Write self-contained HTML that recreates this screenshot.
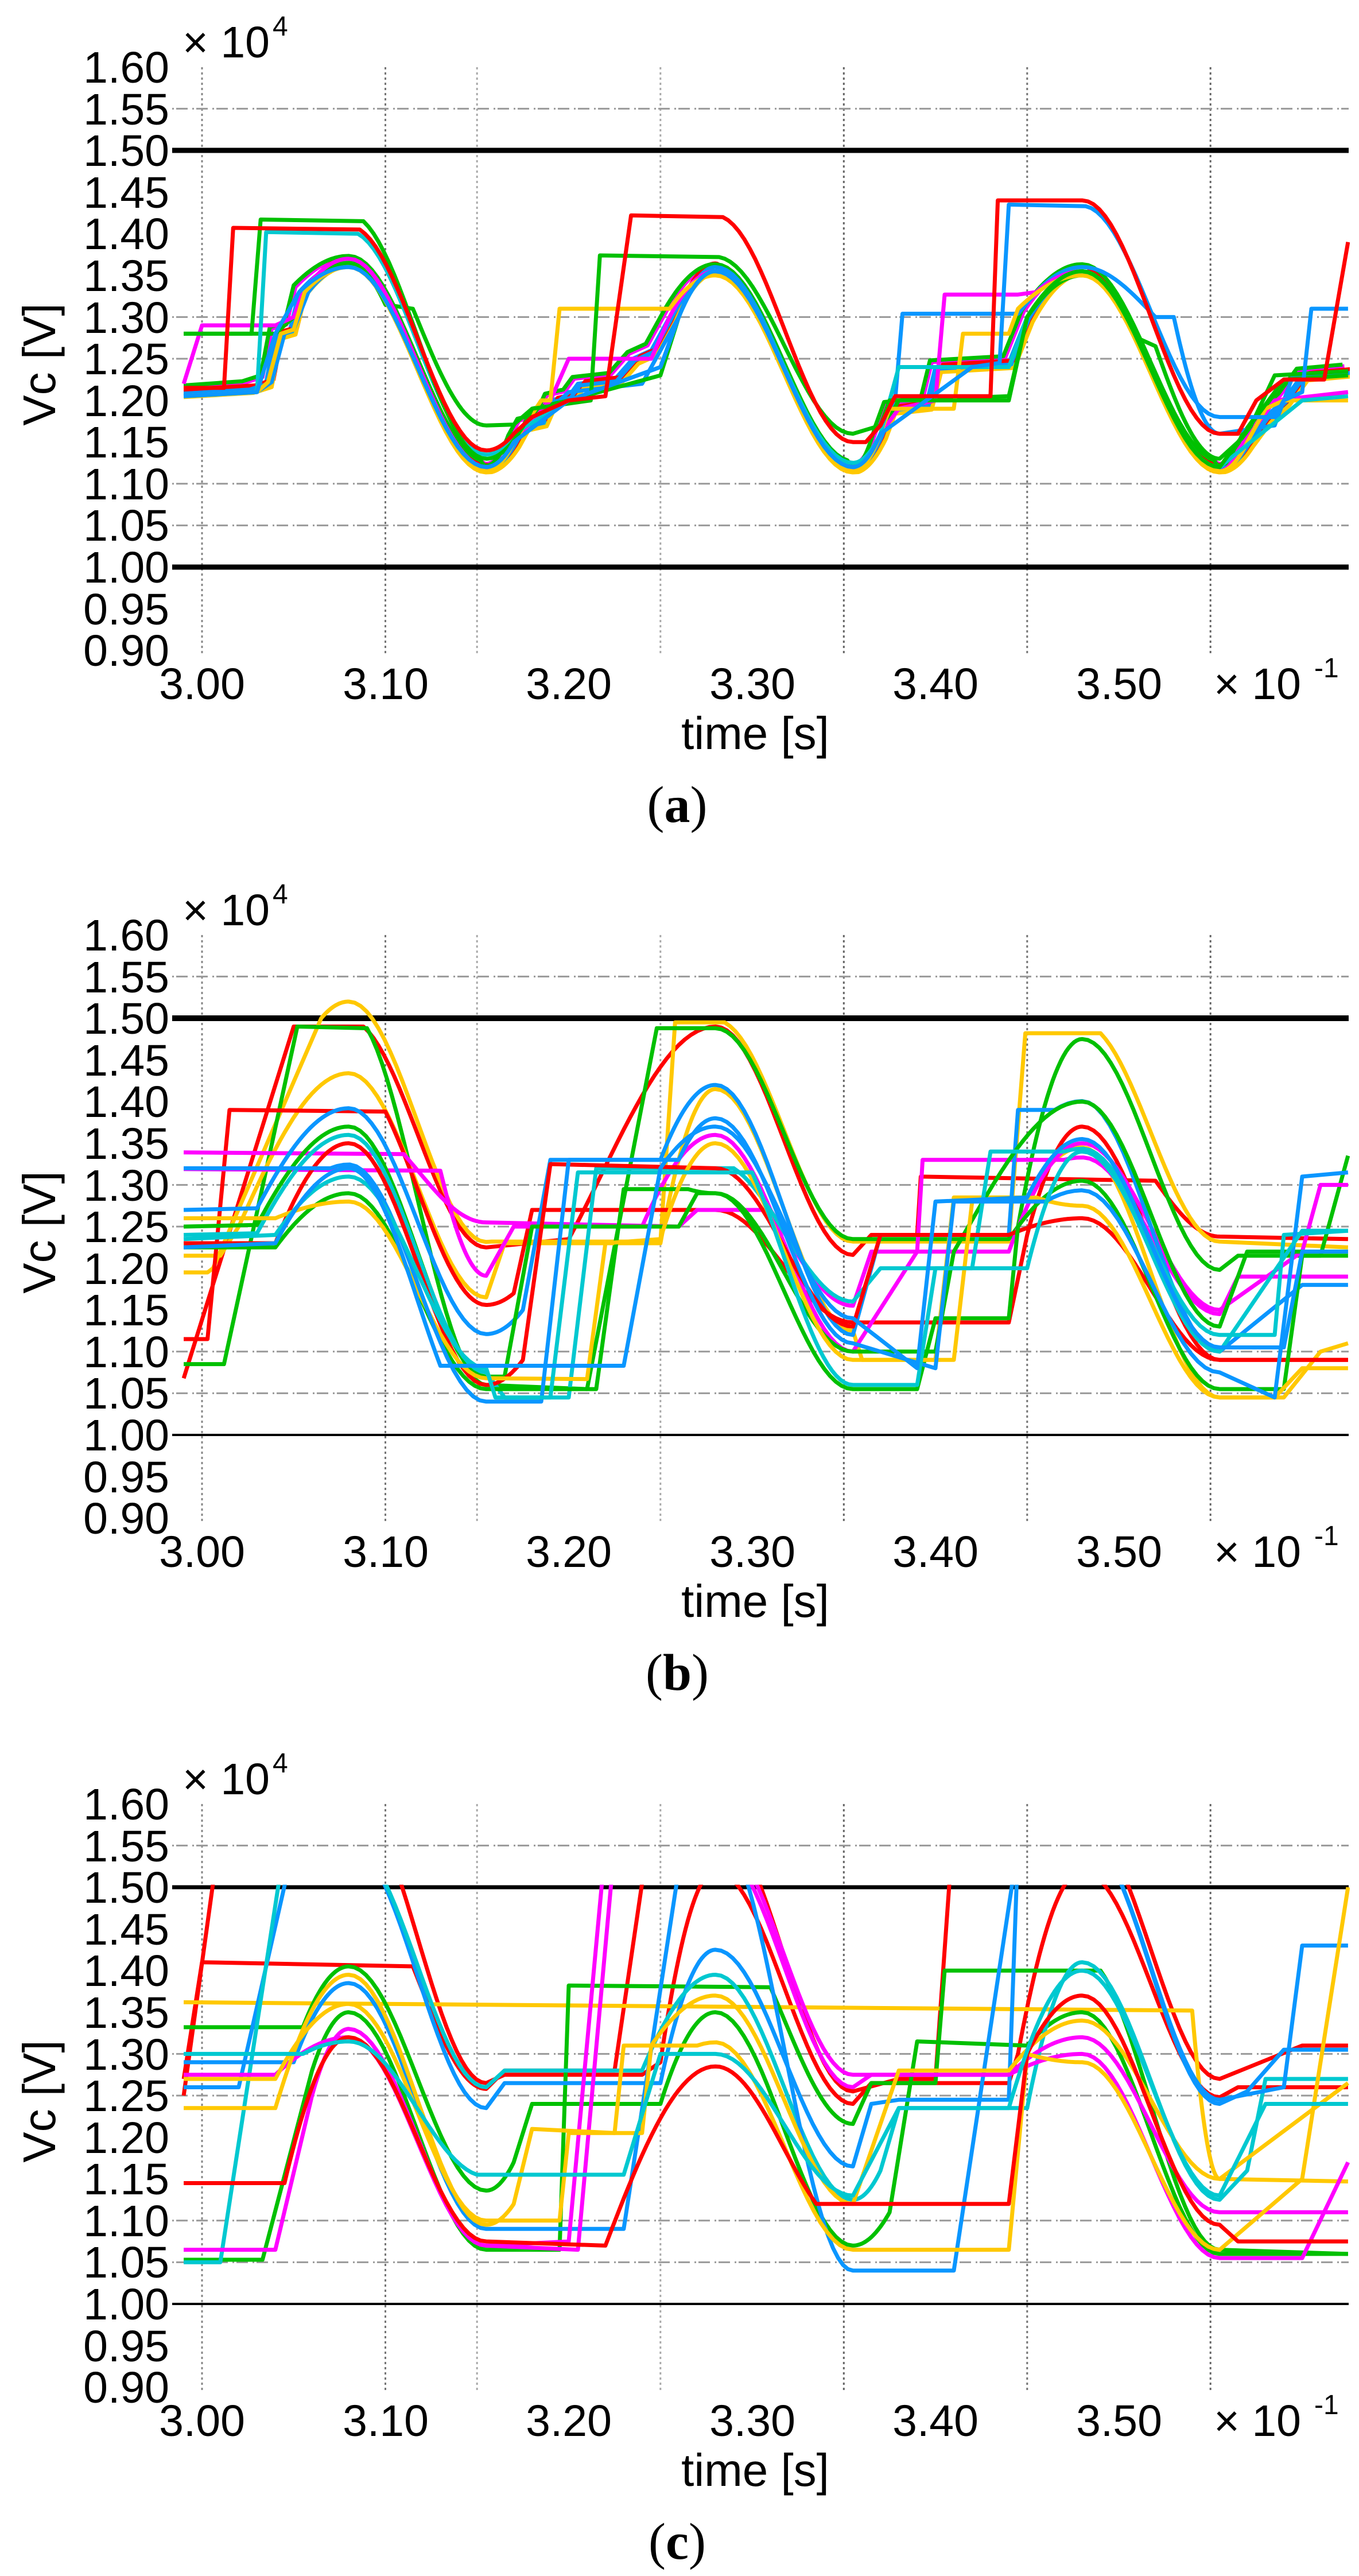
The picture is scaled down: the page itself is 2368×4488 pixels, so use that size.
<!DOCTYPE html>
<html><head><meta charset="utf-8">
<style>
html,body{margin:0;padding:0;background:#fff;}
svg{display:block;}
.tk{font-family:"Liberation Sans","DejaVu Sans",sans-serif;font-size:77px;fill:#000;}
.lab{font-family:"Liberation Sans","DejaVu Sans",sans-serif;font-size:80px;fill:#000;}
.cap{font-family:"Liberation Serif",serif;font-size:90px;fill:#000;}
</style></head>
<body>
<svg id="s" width="2368" height="4488" viewBox="0 0 2368 4488" xmlns="http://www.w3.org/2000/svg">
<rect width="2368" height="4488" fill="#fff"/>
<g id="grids"></g>
<g id="curves"></g>
<g id="txt0">
<text class="tk" x="295" y="144" text-anchor="end">1.60</text>
<text class="tk" x="295" y="217" text-anchor="end">1.55</text>
<text class="tk" x="295" y="289" text-anchor="end">1.50</text>
<text class="tk" x="295" y="362" text-anchor="end">1.45</text>
<text class="tk" x="295" y="434" text-anchor="end">1.40</text>
<text class="tk" x="295" y="507" text-anchor="end">1.35</text>
<text class="tk" x="295" y="580" text-anchor="end">1.30</text>
<text class="tk" x="295" y="652" text-anchor="end">1.25</text>
<text class="tk" x="295" y="725" text-anchor="end">1.20</text>
<text class="tk" x="295" y="797" text-anchor="end">1.15</text>
<text class="tk" x="295" y="870" text-anchor="end">1.10</text>
<text class="tk" x="295" y="942" text-anchor="end">1.05</text>
<text class="tk" x="295" y="1015" text-anchor="end">1.00</text>
<text class="tk" x="295" y="1088" text-anchor="end">0.95</text>
<text class="tk" x="295" y="1160" text-anchor="end">0.90</text>
<text class="tk" x="352" y="1218" text-anchor="middle">3.00</text>
<text class="tk" x="672" y="1218" text-anchor="middle">3.10</text>
<text class="tk" x="991" y="1218" text-anchor="middle">3.20</text>
<text class="tk" x="1311" y="1218" text-anchor="middle">3.30</text>
<text class="tk" x="1630" y="1218" text-anchor="middle">3.40</text>
<text class="tk" x="1950" y="1218" text-anchor="middle">3.50</text>
<text class="tk" x="2115" y="1218">× 10</text>
<text class="tk" x="2290" y="1180" style="font-size:48px">-1</text>
<text class="tk" x="318" y="100">× 10</text>
<text class="tk" x="475" y="62" style="font-size:48px">4</text>
<text class="lab" x="0" y="0" text-anchor="middle" transform="translate(96,635) rotate(-90)">Vc [V]</text>
<text class="lab" x="1316" y="1305" text-anchor="middle">time [s]</text>
<text class="cap" x="1180" y="1432" text-anchor="middle">(<tspan font-weight="bold">a</tspan>)</text>
</g>
</svg>
<script>
(function(){
var svg=document.getElementById('s');
var t0=document.getElementById('txt0');
var offs=[0,1512,3026];
var caps=['a','b','c'];
for(var k=1;k<3;k++){
  var g=t0.cloneNode(true);
  g.removeAttribute('id');
  g.setAttribute('transform','translate(0,'+offs[k]+')');
  var ts=g.getElementsByTagName('tspan');
  ts[ts.length-1].textContent=caps[k];
  svg.appendChild(g);
}
function X(t){return 352+(t-3.0)*3195;}
function Y(v,o){return o+988-(v-1)*1452;}
function S(t){var p=((t-3.08)%0.2+0.2)%0.2;
  if(p<0.075) return (1+Math.cos(Math.PI*p/0.075))/2;
  return (1-Math.cos(Math.PI*(p-0.075)/0.125))/2;}
var grids='';
var gv=[[3.00,'#888'],[3.10,'#777'],[3.15,'#aaa'],[3.25,'#aaa'],[3.35,'#666'],[3.45,'#777'],[3.55,'#666']];
var hg=[1.55,1.30,1.25,1.10,1.05];
var thick=[[9,9],[10,4],[7,4]];
for(var c=0;c<3;c++){
  var o=offs[c];
  for(var i=0;i<gv.length;i++){var x=X(gv[i][0]).toFixed(1);
    grids+='<line x1="'+x+'" y1="'+(o+117)+'" x2="'+x+'" y2="'+(o+1143)+'" stroke="'+gv[i][1]+'" stroke-width="3" stroke-dasharray="4,5"/>';}
  for(var i=0;i<hg.length;i++){var y=Y(hg[i],o).toFixed(1);
    grids+='<line x1="300" y1="'+y+'" x2="2350" y2="'+y+'" stroke="#999" stroke-width="3" stroke-dasharray="3,4,20,8"/>';}
  grids+='<line x1="300" y1="'+Y(1.5,o)+'" x2="2350" y2="'+Y(1.5,o)+'" stroke="#000" stroke-width="'+thick[c][0]+'"/>';
  grids+='<line x1="300" y1="'+Y(1.0,o)+'" x2="2350" y2="'+Y(1.0,o)+'" stroke="#000" stroke-width="'+thick[c][1]+'"/>';
  var top=(c==2)?Y(1.503,o):Y(1.6,o);
  grids+='<clipPath id="cp'+c+'"><rect x="300" y="'+top+'" width="2052" height="'+(Y(0.9,o)-top)+'"/></clipPath>';
}
document.getElementById('grids').innerHTML=grids;
var R='#ff0000',G='#00c000',B='#0a96ff',C='#00c8d0',M='#ff00ff',Yl='#ffc800';
function build(str,o,dv,dt){
  var tk=str.trim().split(/[\s,]+/);var pts=[];var ct,cv;var i=0;
  while(i<tk.length){var cmd=tk[i];var t=parseFloat(tk[i+1]);var v=parseFloat(tk[i+2])+dv;i+=3;
    if(cmd!='M') t+=dt;
    if(cmd=='M'||cmd=='L'){pts.push([t,v]);}
    else if(cmd=='Z'){var s0=S(ct),s1=S(t);
      for(var j=1;j<=24;j++){var tt=ct+(t-ct)*j/24;var vv;
        if(Math.abs(s1-s0)<1e-6) vv=cv+(v-cv)*j/24; else vv=cv+(v-cv)*(S(tt)-s0)/(s1-s0);
        pts.push([tt,vv]);}}
    ct=t;cv=v;}
  var d='';for(var j=0;j<pts.length;j++){d+=(j?'L':'M')+X(pts[j][0]).toFixed(1)+' '+Y(pts[j][1],o).toFixed(1);}
  return d;}
var mainA='M 2.99 1.21 L 3.025 1.215 L 3.035 1.222 L 3.04 1.28 L 3.048 1.285 L 3.053 1.33 Z 3.08 1.365 Z 3.155 1.12 Z 3.17 1.15 L 3.175 1.17 L 3.185 1.175 L 3.19 1.2 L 3.2 1.205 L 3.205 1.22 L 3.225 1.225 L 3.235 1.25 L 3.245 1.26 L 3.255 1.30 Z 3.28 1.355 Z 3.355 1.12 Z 3.37 1.16 L 3.375 1.19 L 3.395 1.195 L 3.4 1.24 L 3.44 1.245 L 3.45 1.30 Z 3.48 1.355 Z 3.555 1.12 Z 3.57 1.15 L 3.58 1.18 L 3.59 1.2 L 3.6 1.23 L 3.625 1.235';
var A=[];
var mc=[B,C,M,R,Yl,G,B],mdv=[0,-0.004,0.006,0.003,-0.006,0.008,-0.002],mdt=[0,0.002,-0.002,0.004,0.003,-0.003,0.001];
for(var i=0;i<mc.length;i++)A.push([mc[i],mainA,mdv[i],mdt[i]]);
A.push([B,'M 2.99 1.205 L 3.03 1.21 L 3.038 1.222 L 3.045 1.28 L 3.05 1.285 L 3.058 1.33 Z 3.08 1.362 Z 3.155 1.12 Z 3.17 1.15 L 3.2 1.21 L 3.24 1.22 L 3.26 1.30 Z 3.28 1.36 Z 3.355 1.12 Z 3.37 1.16 L 3.378 1.20 L 3.382 1.304 L 3.445 1.304 L 3.455 1.33 Z 3.48 1.36 Z 3.52 1.30 L 3.53 1.30 Z 3.555 1.16 L 3.585 1.17 L 3.595 1.23 L 3.625 1.235']);
A.push([G,'M 2.99 1.28 L 3.04 1.28 L 3.05 1.30 L 3.056 1.33 Z 3.08 1.365 Z 3.1 1.315 L 3.115 1.31 Z 3.155 1.17 L 3.17 1.171 L 3.18 1.19 L 3.2 1.2 L 3.25 1.23 L 3.26 1.30 Z 3.28 1.355 Z 3.355 1.125 Z 3.37 1.16 L 3.38 1.20 L 3.44 1.205 L 3.45 1.30 Z 3.48 1.35 Z 3.51 1.275 L 3.52 1.265 Z 3.555 1.13 L 3.57 1.16 L 3.585 1.23 L 3.625 1.235']);
A.push([M,'M 2.99 1.22 L 3.0 1.29 L 3.04 1.29 L 3.05 1.3 L 3.055 1.33 Z 3.08 1.37 Z 3.155 1.12 Z 3.17 1.15 L 3.19 1.2 L 3.2 1.25 L 3.245 1.25 L 3.255 1.30 Z 3.28 1.355 Z 3.355 1.12 Z 3.37 1.16 L 3.38 1.19 L 3.40 1.2 L 3.405 1.327 L 3.445 1.327 L 3.455 1.33 Z 3.48 1.355 Z 3.555 1.115 Z 3.565 1.14 L 3.585 1.2 L 3.625 1.21']);
A.push([Yl,'M 2.99 1.205 L 3.03 1.21 L 3.036 1.222 L 3.043 1.28 L 3.05 1.285 L 3.056 1.33 Z 3.08 1.36 Z 3.155 1.115 Z 3.17 1.15 L 3.185 1.20 L 3.19 1.2 L 3.195 1.31 L 3.255 1.31 Z 3.28 1.35 Z 3.355 1.115 Z 3.37 1.16 L 3.375 1.19 L 3.41 1.19 L 3.415 1.28 L 3.44 1.28 L 3.445 1.31 Z 3.48 1.35 Z 3.555 1.115 Z 3.57 1.15 L 3.58 1.19 L 3.59 1.20 L 3.625 1.20']);
A.push([C,'M 2.99 1.205 L 3.03 1.21 L 3.035 1.402 L 3.085 1.40 Z 3.155 1.135 Z 3.17 1.16 L 3.2 1.2 L 3.25 1.24 L 3.26 1.30 Z 3.28 1.355 Z 3.355 1.125 Z 3.37 1.16 L 3.38 1.24 L 3.44 1.24 L 3.45 1.30 Z 3.48 1.355 Z 3.555 1.12 L 3.6 1.2 L 3.625 1.205']);
A.push([G,'M 2.99 1.28 L 3.027 1.28 L 3.032 1.417 L 3.088 1.415 Z 3.155 1.13 Z 3.18 1.19 L 3.212 1.2 L 3.217 1.374 L 3.282 1.372 Z 3.355 1.16 L 3.37 1.17 L 3.375 1.2 L 3.44 1.2 L 3.45 1.3 Z 3.48 1.355 Z 3.555 1.12 L 3.59 1.225 L 3.625 1.23']);
A.push([B,'M 2.99 1.205 L 3.03 1.21 L 3.04 1.28 L 3.053 1.33 Z 3.08 1.36 Z 3.155 1.12 Z 3.17 1.15 L 3.2 1.2 L 3.25 1.24 L 3.26 1.3 Z 3.28 1.355 Z 3.355 1.12 Z 3.37 1.16 L 3.42 1.24 L 3.435 1.245 L 3.44 1.435 L 3.482 1.433 Z 3.555 1.18 L 3.585 1.18 L 3.59 1.2 L 3.6 1.21 L 3.605 1.31 L 3.625 1.31']);
A.push([R,'M 2.99 1.215 L 3.012 1.215 L 3.017 1.407 L 3.086 1.405 Z 3.155 1.14 Z 3.17 1.16 L 3.18 1.18 L 3.2 1.2 L 3.22 1.205 L 3.234 1.422 L 3.284 1.42 Z 3.355 1.15 L 3.362 1.15 L 3.37 1.17 L 3.378 1.205 L 3.43 1.205 L 3.434 1.44 L 3.48 1.44 Z 3.555 1.16 L 3.565 1.16 L 3.575 1.2 L 3.59 1.225 L 3.612 1.225 L 3.625 1.39']);
var Bc=[
[R,'M 2.99 1.068 L 3.05 1.49 L 3.088 1.49 Z 3.155 1.225 L 3.2 1.235 Z 3.28 1.49 Z 3.355 1.216 L 3.365 1.24 L 3.39 1.24 L 3.392 1.31 L 3.52 1.305 Z 3.555 1.238 L 3.625 1.235'],
[Yl,'M 2.99 1.195 L 3.003 1.195 L 3.006 1.20 L 3.065 1.50 Z 3.08 1.52 Z 3.158 1.232 L 3.25 1.232 L 3.258 1.495 L 3.285 1.495 Z 3.355 1.232 L 3.44 1.232 L 3.449 1.482 L 3.49 1.482 Z 3.555 1.232 L 3.625 1.225'],
[G,'M 2.99 1.085 L 3.012 1.085 L 3.052 1.49 L 3.09 1.488 Z 3.155 1.06 L 3.21 1.055 L 3.248 1.488 L 3.28 1.488 Z 3.355 1.235 L 3.44 1.235 L 3.445 1.25 Z 3.48 1.475 Z 3.555 1.198 L 3.565 1.215 L 3.61 1.215 L 3.625 1.335'],
[Yl,'M 2.99 1.215 L 3.01 1.215 L 3.02 1.25 Z 3.08 1.434 Z 3.155 1.165 L 3.165 1.23 L 3.25 1.23 Z 3.28 1.415 Z 3.355 1.125 L 3.36 1.09 L 3.40 1.09 L 3.41 1.285 L 3.45 1.285 Z 3.48 1.345 Z 3.555 1.045 L 3.59 1.045 L 3.61 1.1 L 3.625 1.11'],
[R,'M 2.99 1.115 L 3.003 1.115 L 3.015 1.39 L 3.10 1.388 Z 3.155 1.156 Z 3.17 1.17 L 3.18 1.27 L 3.28 1.27 Z 3.355 1.135 L 3.44 1.135 L 3.45 1.24 Z 3.48 1.37 Z 3.555 1.09 L 3.625 1.09'],
[M,'M 2.99 1.339 L 3.11 1.337 Z 3.155 1.255 L 3.26 1.25 L 3.27 1.27 L 3.31 1.27 Z 3.355 1.155 L 3.365 1.22 L 3.39 1.22 L 3.393 1.33 L 3.47 1.33 Z 3.555 1.145 L 3.565 1.19 L 3.625 1.19'],
[M,'M 2.99 1.319 L 3.13 1.317 Z 3.155 1.191 L 3.17 1.25 L 3.24 1.25 Z 3.28 1.36 Z 3.355 1.10 L 3.39 1.22 L 3.44 1.22 Z 3.48 1.35 Z 3.555 1.15 L 3.6 1.22 L 3.61 1.30 L 3.625 1.30'],
[B,'M 2.99 1.27 L 3.03 1.272 Z 3.08 1.392 Z 3.155 1.121 Z 3.175 1.15 L 3.19 1.33 L 3.25 1.33 Z 3.28 1.42 Z 3.355 1.12 L 3.37 1.24 L 3.44 1.24 L 3.445 1.39 L 3.465 1.39 Z 3.555 1.10 L 3.6 1.18 L 3.625 1.18'],
[G,'M 2.99 1.25 L 3.03 1.252 Z 3.08 1.37 Z 3.155 1.07 L 3.165 1.07 L 3.18 1.25 L 3.26 1.25 L 3.27 1.29 L 3.28 1.29 Z 3.355 1.10 L 3.40 1.10 L 3.41 1.22 Z 3.48 1.40 Z 3.555 1.13 L 3.57 1.22 L 3.625 1.22'],
[C,'M 2.99 1.24 L 3.03 1.242 Z 3.08 1.36 Z 3.155 1.075 L 3.165 1.045 L 3.2 1.045 L 3.215 1.32 L 3.29 1.32 Z 3.355 1.16 L 3.37 1.20 L 3.42 1.20 L 3.43 1.34 L 3.47 1.34 Z 3.555 1.12 L 3.585 1.12 L 3.59 1.24 L 3.625 1.245'],
[R,'M 2.99 1.23 L 3.04 1.23 Z 3.08 1.35 Z 3.155 1.06 Z 3.175 1.09 L 3.19 1.325 L 3.28 1.32 Z 3.355 1.13 L 3.37 1.24 L 3.44 1.24 Z 3.48 1.26 Z 3.555 1.09 L 3.625 1.09'],
[G,'M 2.99 1.225 L 3.04 1.225 Z 3.08 1.29 Z 3.155 1.055 L 3.215 1.055 L 3.23 1.295 L 3.265 1.295 Z 3.28 1.29 Z 3.355 1.055 L 3.39 1.055 L 3.40 1.14 L 3.44 1.14 L 3.445 1.25 Z 3.48 1.305 Z 3.555 1.055 L 3.59 1.055 L 3.6 1.215 L 3.625 1.215'],
[Yl,'M 2.99 1.26 L 3.04 1.26 Z 3.08 1.28 Z 3.155 1.068 L 3.21 1.067 L 3.22 1.23 L 3.25 1.235 Z 3.28 1.35 Z 3.355 1.09 L 3.41 1.09 L 3.42 1.28 L 3.455 1.285 Z 3.48 1.275 Z 3.555 1.045 L 3.585 1.045 L 3.6 1.08 L 3.625 1.08'],
[B,'M 2.99 1.32 L 3.07 1.32 Z 3.155 1.04 L 3.185 1.04 L 3.20 1.33 L 3.26 1.33 Z 3.28 1.38 Z 3.355 1.11 L 3.40 1.08 L 3.41 1.28 L 3.46 1.28 Z 3.555 1.075 L 3.585 1.045 L 3.6 1.31 L 3.625 1.315'],
[C,'M 2.99 1.235 L 3.04 1.24 Z 3.08 1.31 Z 3.155 1.08 L 3.16 1.045 L 3.19 1.045 L 3.205 1.315 L 3.3 1.315 Z 3.355 1.06 L 3.39 1.06 L 3.40 1.20 L 3.45 1.2 Z 3.48 1.34 Z 3.555 1.10 L 3.6 1.245 L 3.625 1.245'],
[B,'M 2.99 1.225 L 3.04 1.23 Z 3.08 1.32 Z 3.13 1.083 L 3.23 1.083 L 3.25 1.32 Z 3.28 1.37 Z 3.355 1.14 L 3.39 1.08 L 3.40 1.28 L 3.45 1.285 Z 3.48 1.355 Z 3.555 1.105 L 3.59 1.105 L 3.6 1.22 L 3.625 1.22']
];
var Cc=[
[R,'M 2.99 1.25 L 3.012 1.6 L 3.09 1.6 Z 3.155 1.265 L 3.165 1.275 L 3.24 1.275 L 3.25 1.29 Z 3.28 1.52 Z 3.355 1.24 L 3.365 1.265 L 3.44 1.265 L 3.445 1.30 Z 3.48 1.52 Z 3.555 1.248 L 3.565 1.26 L 3.625 1.26'],
[R,'M 2.99 1.27 L 3.0 1.41 L 3.115 1.405 Z 3.155 1.258 L 3.165 1.28 L 3.225 1.28 L 3.245 1.58 L 3.28 1.58 Z 3.355 1.255 L 3.38 1.27 L 3.40 1.27 L 3.41 1.58 L 3.48 1.58 Z 3.555 1.27 L 3.6 1.31 L 3.625 1.31'],
[Yl,'M 2.99 1.362 L 3.54 1.352 Z 3.555 1.15 L 3.625 1.147'],
[G,'M 2.99 1.332 L 3.055 1.332 Z 3.08 1.405 Z 3.155 1.136 Z 3.17 1.17 L 3.18 1.24 L 3.25 1.24 Z 3.28 1.35 Z 3.355 1.07 Z 3.375 1.11 L 3.39 1.315 L 3.45 1.31 Z 3.48 1.35 Z 3.555 1.06 L 3.625 1.06'],
[G,'M 2.99 1.053 L 3.033 1.053 L 3.06 1.28 Z 3.08 1.35 Z 3.155 1.065 L 3.195 1.065 L 3.2 1.382 L 3.31 1.38 Z 3.355 1.216 L 3.365 1.265 L 3.40 1.265 L 3.405 1.40 L 3.49 1.40 Z 3.555 1.065 L 3.625 1.06'],
[B,'M 2.99 1.26 L 3.02 1.26 L 3.05 1.55 L 3.085 1.55 Z 3.155 1.235 L 3.165 1.265 L 3.25 1.265 Z 3.28 1.425 Z 3.355 1.165 L 3.365 1.24 L 3.38 1.245 L 3.44 1.245 L 3.445 1.55 L 3.49 1.55 Z 3.555 1.24 L 3.57 1.255 L 3.59 1.305 L 3.625 1.305'],
[C,'M 2.99 1.05 L 3.01 1.05 L 3.045 1.55 L 3.085 1.55 Z 3.155 1.26 L 3.165 1.28 L 3.24 1.28 Z 3.28 1.395 Z 3.355 1.125 Z 3.37 1.16 L 3.38 1.235 L 3.45 1.235 Z 3.48 1.41 Z 3.555 1.125 L 3.57 1.16 L 3.58 1.27 L 3.625 1.27'],
[B,'M 2.99 1.29 L 3.05 1.29 Z 3.08 1.385 Z 3.155 1.09 L 3.23 1.09 L 3.262 1.55 L 3.29 1.55 Z 3.355 1.04 L 3.41 1.04 L 3.445 1.55 L 3.49 1.55 Z 3.555 1.245 L 3.59 1.26 L 3.60 1.43 L 3.625 1.43'],
[M,'M 2.99 1.065 L 3.04 1.065 L 3.06 1.25 Z 3.08 1.33 Z 3.155 1.07 L 3.205 1.065 L 3.225 1.55 L 3.28 1.55 Z 3.355 1.26 L 3.365 1.275 L 3.44 1.275 Z 3.48 1.30 Z 3.555 1.055 L 3.6 1.055 L 3.625 1.17'],
[M,'M 2.99 1.275 L 3.04 1.275 Z 3.08 1.32 Z 3.155 1.07 L 3.2 1.075 L 3.22 1.55 L 3.29 1.55 Z 3.355 1.275 L 3.44 1.275 Z 3.48 1.32 Z 3.555 1.11 L 3.625 1.11'],
[Yl,'M 2.99 1.235 L 3.04 1.235 Z 3.08 1.395 Z 3.155 1.095 Z 3.17 1.12 L 3.18 1.21 L 3.225 1.205 L 3.23 1.31 L 3.27 1.31 Z 3.355 1.065 L 3.44 1.065 L 3.45 1.30 Z 3.48 1.29 Z 3.555 1.065 L 3.6 1.15 L 3.625 1.5'],
[Yl,'M 2.99 1.27 L 3.04 1.27 Z 3.08 1.36 Z 3.155 1.10 L 3.195 1.10 L 3.2 1.205 L 3.24 1.205 L 3.245 1.31 Z 3.28 1.37 Z 3.355 1.12 L 3.38 1.28 L 3.44 1.28 Z 3.48 1.34 Z 3.555 1.15 L 3.625 1.265'],
[R,'M 2.99 1.145 L 3.045 1.145 Z 3.08 1.32 Z 3.155 1.075 L 3.22 1.07 Z 3.28 1.285 Z 3.335 1.12 L 3.44 1.12 L 3.45 1.30 Z 3.48 1.37 Z 3.555 1.095 L 3.565 1.075 L 3.625 1.075'],
[C,'M 2.99 1.30 L 3.055 1.30 Z 3.08 1.315 Z 3.15 1.155 L 3.23 1.155 L 3.25 1.30 Z 3.28 1.30 Z 3.355 1.13 L 3.38 1.235 L 3.44 1.235 Z 3.48 1.40 Z 3.555 1.13 L 3.58 1.24 L 3.625 1.24']
];
var out='';
var sets=[A,Bc,Cc];
for(var c=0;c<3;c++){
  out+='<g clip-path="url(#cp'+c+')" fill="none" stroke-width="7" stroke-linejoin="round">';
  var L=sets[c];
  for(var i=0;i<L.length;i++){var e=L[i];
    out+='<path d="'+build(e[1],offs[c],e[2]||0,e[3]||0)+'" stroke="'+e[0]+'"/>';}
  out+='</g>';
}
document.getElementById('curves').innerHTML=out;
})();
</script>
</body></html>
